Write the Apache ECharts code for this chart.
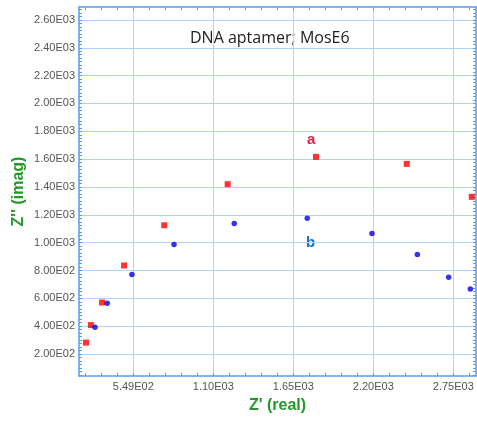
<!DOCTYPE html>
<html>
<head>
<meta charset="utf-8">
<script src="https://cdn.jsdelivr.net/npm/echarts@6/dist/echarts.min.js"></script>
<style>
html,body{margin:0;padding:0;background:#fff;}
#chart{width:477px;height:421px;}
</style>
</head>
<body>
<div id="chart"></div>
<script>
// Series a (red squares): Z' (real), Z'' (imag)
const aReal = [224, 258, 334, 486, 762, 1198, 1805, 2429, 2876];
const aImag = [282, 408, 570, 836, 1125, 1420, 1616, 1566, 1329];
// Series b (blue dots)
const bReal = [286, 370, 540, 829, 1243, 1745, 2190, 2502, 2717, 2866];
const bImag = [392, 565, 772, 987, 1138, 1175, 1066, 915, 751, 667];
// Axis ticks
const xMajorTicks = [549, 1099, 1649, 2199, 2749];
const yMajorTicks = [200, 400, 600, 800, 1000, 1200, 1400, 1600, 1800, 2000, 2200, 2400, 2600];
const xMin = 176, xMax = 2905, yMin = 42, yMax = 2693;
const xMinorStep = 110, yMinorStep = 25;

function minorTicks(min, max, anchor, step) {
  const out = [];
  let v = anchor - Math.ceil((anchor - min) / step) * step;
  for (; v <= max; v += step) out.push(Math.round(v * 1000) / 1000);
  return out;
}
const xAllTicks = minorTicks(xMin, xMax, xMajorTicks[0], xMinorStep);
const yAllTicks = minorTicks(yMin, yMax, yMajorTicks[0], yMinorStep);

function fmt(v) {
  const s = Number(v).toExponential(2);
  const parts = s.split('e');
  const e = parseInt(parts[1], 10);
  const es = (e < 0 ? '-' : '') + String(Math.abs(e)).padStart(2, '0');
  return parts[0] + 'E' + es;
}

const axisBlue = '#4f9ff2';
const gridBlue = '#b0d5fa';
const green = '#23992a';
const labelStyle = { color: '#555', fontSize: 11, fontFamily: 'Liberation Sans, Arial, sans-serif' };

const chart = echarts.init(document.getElementById('chart'), null, { renderer: 'canvas' });
chart.setOption({
  animation: false,
  backgroundColor: '#fff',
  grid: { left: 79, right: 1, top: 7, bottom: 45, containLabel: false },
  xAxis: [
    {
      type: 'value', position: 'bottom', min: xMin, max: xMax,
      name: "Z' (real)", nameLocation: 'middle', nameGap: 22, nameMoveOverlap: false,
      nameTextStyle: { color: green, fontWeight: 'bold', fontSize: 16, fontFamily: 'Liberation Sans, Arial, sans-serif' },
      axisLine: { show: true, onZero: false, lineStyle: { color: axisBlue, width: 1.5 } },
      axisTick: { show: true, inside: true, length: 3, customValues: xAllTicks, lineStyle: { color: axisBlue } },
      axisLabel: { show: true, customValues: xMajorTicks, formatter: fmt, margin: 5, ...labelStyle },
      splitLine: { show: false }
    },
    {
      type: 'value', position: 'top', min: xMin, max: xMax,
      axisLine: { show: true, onZero: false, lineStyle: { color: axisBlue, width: 1.5 } },
      axisTick: { show: true, inside: true, length: 3, customValues: xAllTicks, lineStyle: { color: axisBlue } },
      axisLabel: { show: false },
      splitLine: { show: false }
    },
    {
      type: 'value', position: 'bottom', min: xMin, max: xMax,
      axisLine: { show: false },
      axisTick: { show: false, customValues: xMajorTicks },
      axisLabel: { show: false },
      splitLine: { show: true, lineStyle: { color: gridBlue, width: 1 } }
    }
  ],
  yAxis: [
    {
      type: 'value', position: 'left', min: yMin, max: yMax,
      name: "Z'' (imag)", nameLocation: 'middle', nameGap: 52, nameRotate: 90, nameMoveOverlap: false,
      nameTextStyle: { color: green, fontWeight: 'bold', fontSize: 16, fontFamily: 'Liberation Sans, Arial, sans-serif' },
      axisLine: { show: true, onZero: false, lineStyle: { color: axisBlue, width: 1.5 } },
      axisTick: { show: true, inside: true, length: 3, customValues: yAllTicks, lineStyle: { color: axisBlue } },
      axisLabel: { show: true, customValues: yMajorTicks, formatter: fmt, margin: 4, ...labelStyle },
      splitLine: { show: false }
    },
    {
      type: 'value', position: 'right', min: yMin, max: yMax,
      axisLine: { show: true, onZero: false, lineStyle: { color: axisBlue, width: 1.5 } },
      axisTick: { show: true, inside: true, length: 3, customValues: yAllTicks, lineStyle: { color: axisBlue } },
      axisLabel: { show: false },
      splitLine: { show: false }
    },
    {
      type: 'value', position: 'left', min: yMin, max: yMax,
      axisLine: { show: false },
      axisTick: { show: false, customValues: yMajorTicks },
      axisLabel: { show: false },
      splitLine: { show: true, lineStyle: { color: gridBlue, width: 1 } }
    }
  ],
  series: [
    {
      name: 'a', type: 'scatter', xAxisIndex: 0, yAxisIndex: 0,
      symbol: 'rect', symbolSize: 6,
      itemStyle: { color: '#ff0000' },
      data: aReal.map((x, i) => [x, aImag[i]]),
      z: 5
    },
    {
      name: 'b', type: 'scatter', xAxisIndex: 0, yAxisIndex: 0,
      symbol: 'circle', symbolSize: 5.5,
      itemStyle: { color: '#0000ee' },
      data: bReal.map((x, i) => [x, bImag[i]]),
      z: 5
    }
  ],
  graphic: [
    { type: 'text', left: 190, top: 30, style: { text: 'DNA aptamer; MosE6', fill: '#222', font: '16px "Open Sans", "Noto Sans", sans-serif' } },
    { type: 'text', left: 307, top: 132, style: { text: 'a', fill: '#e0204a', font: 'bold 15px "Liberation Sans", Arial, sans-serif' } },
    { type: 'text', left: 306, top: 235, style: { text: 'b', fill: '#1a6fd6', font: 'bold 15px "Liberation Sans", Arial, sans-serif' } }
  ]
});
</script>
</body>
</html>
